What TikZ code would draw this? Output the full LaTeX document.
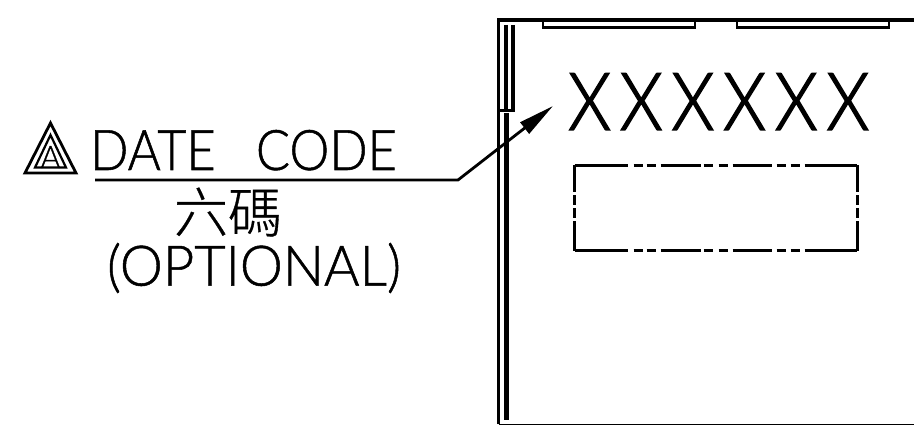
\documentclass[tikz,border=0pt]{standalone}
\usepackage{fontspec}
\usetikzlibrary{arrows.meta}
\setmainfont{Liberation Sans}
\newfontfamily\strokefont[FakeStretch=0.97,FakeBold=0.9]{Lato Light}
\newfontfamily\datefont[FakeStretch=0.9,FakeBold=0.9]{Lato Light}
\newfontfamily\markfont[FakeStretch=0.86,FakeBold=1.8,LetterSpace=11]{Lato Light}
\newfontfamily\cjkfont[FakeBold=0.6]{Noto Sans CJK TC Light}
\begin{document}
\begin{tikzpicture}[x=1pt, y=-1pt, line join=miter,
        outline/.style={draw, line width=3.2pt},
        padline/.style={draw, line width=2.6pt},
        label/.style={inner sep=0pt, font=\strokefont\fontsize{56}{56}\selectfont},
        keeph/.style={line width=3pt, dash pattern=on 53pt off 6pt on 9pt off 4pt on 9pt off 5pt on 40pt off 3pt on 9pt off 6pt on 9pt off 5pt on 39pt off 5pt on 9pt off 5pt on 9pt off 5pt on 53pt},
        keepv/.style={line width=3pt, dash pattern=on 27pt off 3pt on 10pt off 3pt on 10pt off 3pt on 30pt}]
    \useasboundingbox (0,0) rectangle (914,425);

    \coordinate (bl) at (498.5,424);
    \coordinate (tl) at (498.5,20);
    \coordinate (tr) at (914,20);
    \coordinate (br) at (914,424);
    \draw[outline] (bl) -- (tl) -- (tr);
    \draw[line width=1pt] (bl) -- (br);

    % pads on the top edge
    \draw[padline] (543,20) -- (543,27.5) -- (695,27.5) -- (695,20);
    \draw[padline] (737,20) -- (737,27.5) -- (889,27.5) -- (889,20);

    % inner wall
    \draw[outline] (506,25) -- (506,110);
    \draw[outline] (513,25) -- (513,110);
    \draw[line width=3.5pt] (498,110.5) -- (514.5,110.5);
    \draw[line width=4.6pt] (506.5,113) -- (506.5,420);

    % leader
    \coordinate (leadstart) at (95,180);
    \coordinate (elbow) at (458,180);
    \coordinate (leadtip) at (553,106);
    \draw[line width=2.8pt, -{Triangle[length=36pt,width=14pt]}] (leadstart) -- (elbow) -- (leadtip);

    % revision mark
    \coordinate (outa) at (50.5,123);
    \coordinate (outb) at (25,173);
    \coordinate (outc) at (76,173);
    \coordinate (ina) at (50.5,135);
    \coordinate (inb) at (35,167.5);
    \coordinate (inc) at (66,167.5);
    \draw[line width=2.8pt] (outa) -- (outb) -- (outc) -- cycle;
    \draw[line width=2.2pt] (ina) -- (inb) -- (inc) -- cycle;
    \node[inner sep=0pt, anchor=base, font=\strokefont\fontsize{31}{31}\selectfont] (rev) at (50.5,168) {A};

    \node[inner sep=0pt, anchor=base west, font=\datefont\fontsize{56}{56}\selectfont] (date) at (90,170) {DATE\ \ \hspace{13pt}CODE};
    \node[inner sep=0pt, font=\cjkfont\fontsize{54}{54}\selectfont] (six) at (228,212) {六碼};
    \node[label] (opt) at (254,268) {(OPTIONAL)};

    \node[inner sep=0pt, anchor=base west, font=\markfont\fontsize{80}{80}\selectfont] (marking) at (568,130) {XXXXXX};

    % keep out box
    \coordinate (ka) at (574.5,165.5);
    \coordinate (kb) at (857,165.5);
    \coordinate (kc) at (857,251);
    \coordinate (kd) at (574.5,251);
    \draw[keeph] (ka) -- (kb);
    \draw[keeph] (kd) -- (kc);
    \draw[keepv] (ka) -- (kd);
    \draw[keepv] (kb) -- (kc);
\end{tikzpicture}
\end{document}
